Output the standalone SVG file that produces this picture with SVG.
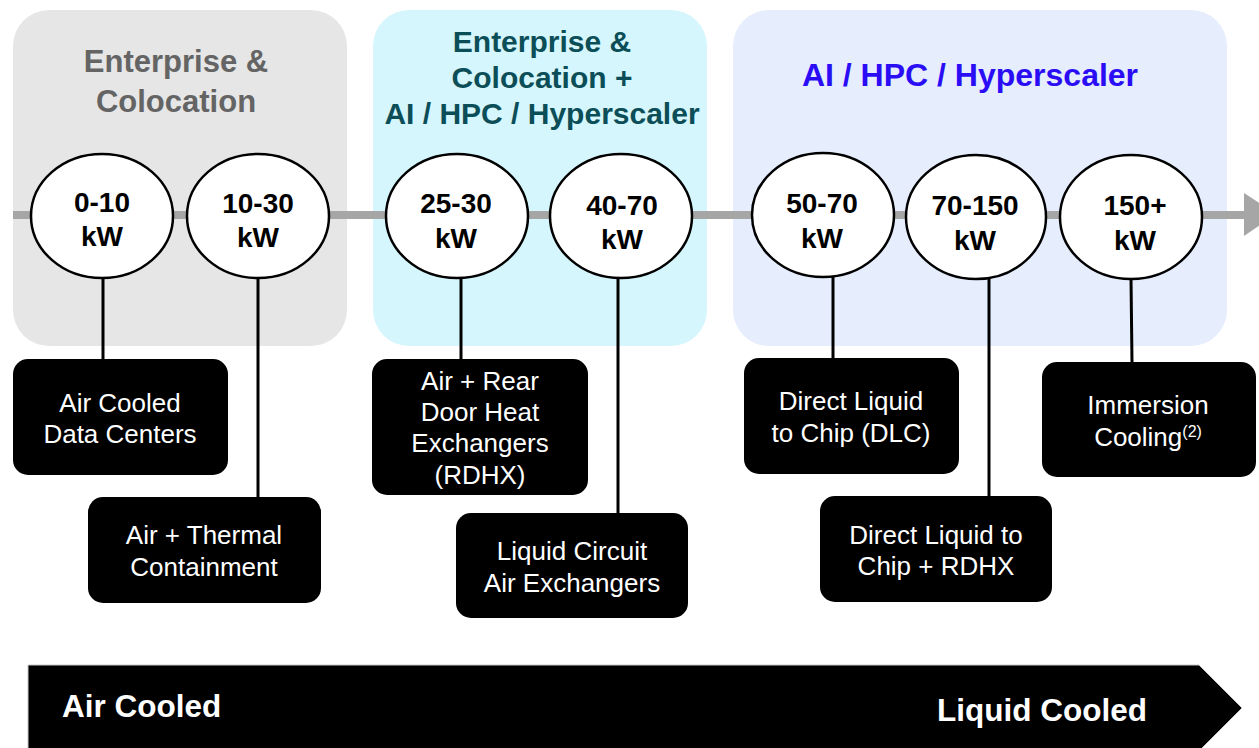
<svg xmlns="http://www.w3.org/2000/svg" width="1259" height="748" viewBox="0 0 1259 748">
<style>
.title{font-family:"Liberation Sans",Arial,sans-serif;font-weight:bold;text-anchor:middle}
.kw{font-family:"Liberation Sans",Arial,sans-serif;font-weight:bold;font-size:28px;text-anchor:middle;fill:#000}
.bt{font-family:"Liberation Sans",Arial,sans-serif;font-size:26px;text-anchor:middle;fill:#fff}
.circ{fill:#fff;stroke:#000;stroke-width:2.5}
.box{fill:#000}
.conn{stroke:#000;stroke-width:3;fill:none}
.band{font-family:"Liberation Sans",Arial,sans-serif;font-weight:bold;font-size:31.5px;fill:#fff}
</style>
<rect width="1259" height="748" fill="#fff"/>
<g id="panel-enterprise">
<rect x="13" y="10" width="334" height="336" rx="36" fill="#e6e6e6"/>
<text class="title" x="176" y="72" font-size="31" fill="#646464">Enterprise &amp;</text>
<text class="title" x="176" y="112" font-size="31" fill="#646464">Colocation</text>
</g>
<g id="panel-mixed">
<rect x="373" y="10" width="334" height="336" rx="36" fill="#d5f6fc"/>
<text class="title" x="542" y="52" font-size="30" fill="#0b4e58">Enterprise &amp;</text>
<text class="title" x="542" y="88" font-size="30" fill="#0b4e58">Colocation +</text>
<text class="title" x="542" y="124" font-size="30" fill="#0b4e58">AI / HPC / Hyperscaler</text>
</g>
<g id="panel-ai">
<rect x="733" y="10" width="494" height="336" rx="36" fill="#e6edfd"/>
<text class="title" x="970" y="86" font-size="32" fill="#2a0cf5">AI / HPC / Hyperscaler</text>
</g>
<g id="connectors">
<line x1="13" y1="215" x2="1246" y2="215" stroke="#a6a6a6" stroke-width="8"/>
<polygon points="1244,193 1276,214 1244,236" fill="#a6a6a6"/>
<line class="conn" x1="103" y1="277" x2="103" y2="360"/>
<line class="conn" x1="258" y1="277" x2="258" y2="498"/>
<line class="conn" x1="461" y1="277" x2="461" y2="360"/>
<line class="conn" x1="618" y1="277" x2="618" y2="514"/>
<line class="conn" x1="833" y1="276" x2="833" y2="359"/>
<line class="conn" x1="989" y1="277" x2="989" y2="497"/>
<line class="conn" x1="1131" y1="278" x2="1132" y2="363"/>
</g>
<g id="c-0-10"><ellipse class="circ" cx="102" cy="216" rx="71" ry="62"/><text class="kw" x="102" y="212">0-10</text><text class="kw" x="102" y="246">kW</text></g>
<g id="c-10-30"><ellipse class="circ" cx="258" cy="216" rx="71" ry="62"/><text class="kw" x="258" y="213">10-30</text><text class="kw" x="258" y="247">kW</text></g>
<g id="c-25-30"><ellipse class="circ" cx="457" cy="216" rx="71" ry="62"/><text class="kw" x="456" y="213">25-30</text><text class="kw" x="456" y="248">kW</text></g>
<g id="c-40-70"><ellipse class="circ" cx="621" cy="216" rx="71" ry="62"/><text class="kw" x="622" y="215">40-70</text><text class="kw" x="622" y="249">kW</text></g>
<g id="c-50-70"><ellipse class="circ" cx="823" cy="215" rx="71" ry="62"/><text class="kw" x="822" y="213">50-70</text><text class="kw" x="822" y="248">kW</text></g>
<g id="c-70-150"><ellipse class="circ" cx="976" cy="217" rx="70" ry="62"/><text class="kw" x="975" y="215">70-150</text><text class="kw" x="975" y="250">kW</text></g>
<g id="c-150"><ellipse class="circ" cx="1131" cy="217" rx="71" ry="62"/><text class="kw" x="1135" y="215">150+</text><text class="kw" x="1135" y="250">kW</text></g>
<g id="b-air-cooled"><rect class="box" x="13" y="359" width="215" height="116" rx="15"/><text class="bt" x="120" y="412">Air Cooled</text><text class="bt" x="120" y="443">Data Centers</text></g>
<g id="b-thermal"><rect class="box" x="88" y="497" width="233" height="106" rx="15"/><text class="bt" x="204" y="544">Air + Thermal</text><text class="bt" x="204" y="576">Containment</text></g>
<g id="b-rdhx"><rect class="box" x="372" y="359" width="216" height="136" rx="15"/><text class="bt" x="480" y="390">Air + Rear</text><text class="bt" x="480" y="421">Door Heat</text><text class="bt" x="480" y="452">Exchangers</text><text class="bt" x="480" y="484">(RDHX)</text></g>
<g id="b-liquid-circuit"><rect class="box" x="456" y="513" width="232" height="105" rx="15"/><text class="bt" x="572" y="560">Liquid Circuit</text><text class="bt" x="572" y="592">Air Exchangers</text></g>
<g id="b-dlc"><rect class="box" x="744" y="358" width="215" height="116" rx="15"/><text class="bt" x="851" y="410">Direct Liquid</text><text class="bt" x="851" y="442">to Chip (DLC)</text></g>
<g id="b-dlc-rdhx"><rect class="box" x="820" y="496" width="232" height="106" rx="15"/><text class="bt" x="936" y="544">Direct Liquid to</text><text class="bt" x="936" y="575">Chip + RDHX</text></g>
<g id="b-immersion"><rect class="box" x="1042" y="362" width="214" height="115" rx="15"/><text class="bt" x="1148" y="414">Immersion</text><text class="bt" x="1148" y="446">Cooling<tspan font-size="16" dy="-9">(2)</tspan></text></g>
<g id="band">
<polygon points="28,665 1199,665 1242,708 1199,751 28,751" fill="#000" stroke="#c8c8c8" stroke-width="1"/>
<text class="band" x="62" y="717">Air Cooled</text>
<text class="band" x="937" y="721">Liquid Cooled</text>
</g>
</svg>
